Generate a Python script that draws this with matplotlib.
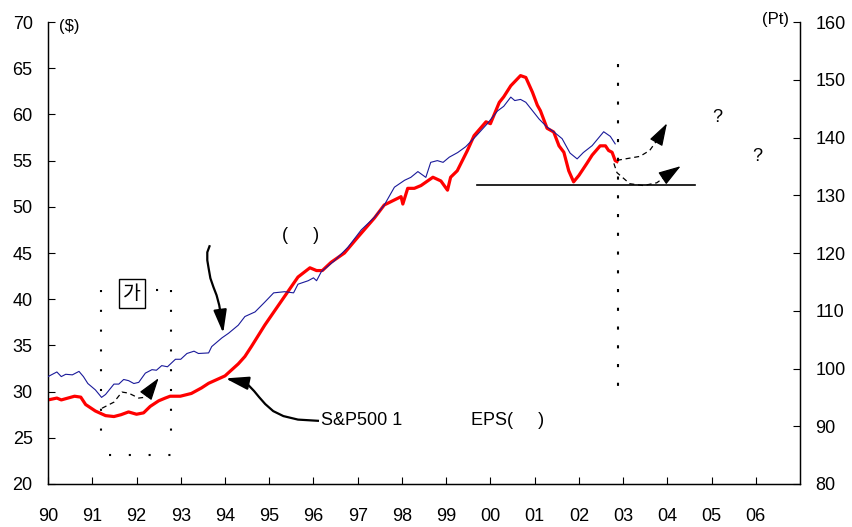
import matplotlib
matplotlib.use("Agg")
import matplotlib.pyplot as plt

plt.rcParams['font.family'] = ['Liberation Sans', 'DejaVu Sans']

# S&P500 EPS ($, left axis)
eps_x = [1990.0, 1990.2, 1990.3, 1990.45, 1990.6, 1990.74, 1990.85, 1991.07, 1991.3, 1991.49,
         1991.65, 1991.82, 1992.0, 1992.16, 1992.31, 1992.5, 1992.65, 1992.76, 1992.99, 1993.24,
         1993.47, 1993.63, 1994.0, 1994.3, 1994.45, 1994.6, 1994.9, 1995.13, 1995.39, 1995.65,
         1995.92, 1996.07, 1996.2, 1996.4, 1996.7, 1997.0, 1997.38, 1997.6, 1997.98, 1998.02,
         1998.13, 1998.28, 1998.43, 1998.7, 1998.88, 1999.03, 1999.1, 1999.25, 1999.48, 1999.63,
         1999.9, 2000.0, 2000.2, 2000.3, 2000.46, 2000.68, 2000.8, 2000.95, 2001.06, 2001.13,
         2001.28, 2001.43, 2001.55, 2001.66, 2001.77, 2001.88, 2002.0, 2002.18, 2002.3, 2002.48,
         2002.6, 2002.67, 2002.75, 2002.82, 2002.86]
eps_y = [29.1, 29.3, 29.1, 29.3, 29.5, 29.4, 28.6, 27.9, 27.4, 27.3,
         27.5, 27.8, 27.55, 27.7, 28.4, 29.0, 29.3, 29.5, 29.5, 29.8,
         30.4, 30.9, 31.7, 33.0, 33.8, 34.9, 37.2, 38.8, 40.6, 42.4,
         43.4, 43.1, 43.1, 44.0, 45.0, 46.7, 48.8, 50.2, 51.1, 50.3,
         52.0, 52.0, 52.3, 53.2, 52.8, 51.8, 53.2, 53.9, 56.1, 57.7,
         59.2, 59.0, 61.3, 61.9, 63.1, 64.2, 64.0, 62.4, 61.0, 60.4,
         58.5, 58.1, 56.6, 55.9, 53.9, 52.7, 53.4, 54.7, 55.6, 56.6,
         56.6, 56.1, 55.9, 55.0, 54.9]

# leading index (Pt, right axis)
idx_x = [1990.0, 1990.2, 1990.3, 1990.4, 1990.55, 1990.7, 1990.8, 1990.9, 1991.07, 1991.21,
         1991.3, 1991.49, 1991.6, 1991.71, 1991.82, 1991.94, 1992.05, 1992.2, 1992.35, 1992.45,
         1992.57, 1992.7, 1992.88, 1993.0, 1993.14, 1993.3, 1993.4, 1993.63, 1993.7, 1993.93,
         1994.08, 1994.3, 1994.45, 1994.68, 1994.9, 1995.1, 1995.35, 1995.55, 1995.65, 1995.88,
         1996.0, 1996.07, 1996.18, 1996.48, 1996.78, 1997.08, 1997.38, 1997.6, 1997.83, 1998.06,
         1998.2, 1998.36, 1998.54, 1998.65, 1998.8, 1998.93, 1999.07, 1999.26, 1999.44, 1999.67,
         1999.93, 2000.16, 2000.3, 2000.46, 2000.55, 2000.68, 2000.8, 2001.1, 2001.28, 2001.43,
         2001.62, 2001.8, 2001.96, 2002.1, 2002.3, 2002.56, 2002.71, 2002.82]
idx_y = [98.6, 99.4, 98.6, 99.0, 98.9, 99.5, 98.6, 97.4, 96.3, 95.0,
         95.5, 97.3, 97.3, 98.1, 97.9, 97.4, 97.6, 99.2, 99.8, 99.7,
         100.5, 100.3, 101.6, 101.6, 102.6, 103.0, 102.6, 102.7, 103.8, 105.3,
         106.1, 107.5, 109.0, 109.8, 111.5, 113.1, 113.3, 113.1, 114.6, 115.2,
         115.7, 115.2, 116.8, 118.7, 121.0, 124.0, 126.2, 128.3, 131.4, 132.6,
         133.1, 134.1, 133.1, 135.7, 136.0, 135.7, 136.6, 137.4, 138.4, 140.2,
         142.4, 144.6, 145.4, 147.0, 146.4, 146.6, 146.1, 143.2, 141.8, 141.0,
         139.8, 137.3, 136.3, 137.4, 138.6, 141.0, 140.2, 138.9]

years = list(range(1990, 2007))
year_labels = ['90', '91', '92', '93', '94', '95', '96', '97', '98', '99',
               '00', '01', '02', '03', '04', '05', '06']

# annotation paths (left-axis units), last point is the arrow tip
arrow1 = [(1991.22, 28.2), (1991.49, 28.86), (1991.67, 29.95), (1991.82, 29.84), (1992.05, 29.3),
          (1992.21, 29.4), (1992.32, 30.27), (1992.5, 31.46)]
arrow2 = [(2002.86, 55.03), (2003.38, 55.46), (2003.6, 56.1), (2003.81, 57.5), (2003.99, 59.03)]
arrow3 = [(2002.79, 54.7), (2002.86, 53.7), (2003.15, 52.5), (2003.46, 52.3), (2003.76, 52.6),
          (2004.05, 53.6), (2004.3, 54.4)]
arrow4 = [(1993.65, 45.73), (1993.60, 45.08), (1993.60, 44.22), (1993.63, 43.35), (1993.67, 42.27),
          (1993.74, 41.30), (1993.81, 40.43), (1993.87, 39.35), (1993.90, 38.49), (1993.96, 36.32)]
arrow5 = [(1996.1, 26.84), (1995.65, 26.97), (1995.32, 27.35), (1995.09, 27.89), (1994.91, 28.65),
          (1994.77, 29.41), (1994.66, 30.05), (1994.53, 30.70), (1994.41, 31.03), (1994.01, 31.43)]


def draw_arrow(ax, pts, ls, lw, hl, hw):
    xs = [p[0] for p in pts[:-1]]
    ys = [p[1] for p in pts[:-1]]
    ax.plot(xs, ys, color='black', lw=lw, ls=ls, zorder=5, solid_joinstyle='round')
    ax.annotate('', xy=pts[-1], xytext=pts[-2],
                arrowprops=dict(arrowstyle='-|>,head_length=%s,head_width=%s' % (hl, hw),
                                color='black', lw=lw, shrinkA=0, shrinkB=0,
                                mutation_scale=10), zorder=6)


def main():
    fig = plt.figure(figsize=(8.53, 5.27), dpi=100)
    ax = fig.add_axes([0.0563, 0.0816, 0.8817, 0.8766])
    ax2 = ax.twinx()

    ax.plot(eps_x, eps_y, color='#ff0000', lw=2.3, zorder=4, solid_joinstyle='round')
    ax2.plot(idx_x, idx_y, color='#1a1a9a', lw=0.8, zorder=3)

    ax.set_xlim(1990, 2007)
    ax.set_ylim(20, 70)
    ax2.set_ylim(80, 160)
    ax.set_yticks(range(20, 71, 5))
    ax2.set_yticks(range(80, 161, 10))

    ax.set_xticks(years)
    ax.set_xticklabels(year_labels)
    ax.tick_params(axis='x', direction='in', length=5, width=0.8, pad=17, labelsize=13)
    ax.tick_params(axis='y', direction='in', length=5, width=0.8, pad=11, labelsize=13)
    ax2.tick_params(axis='y', direction='in', length=5, width=0.8, pad=11, labelsize=13)

    for a in (ax, ax2):
        a.spines['top'].set_visible(False)
        for s in ('left', 'right', 'bottom'):
            a.spines[s].set_linewidth(0.9)

    # horizontal reference line and vertical dotted line
    ax.plot([1999.7, 2004.62], [52.35, 52.35], color='black', lw=1.2, zorder=5)
    ax.plot([2002.88, 2002.88], [65.5, 29.2], color='black', lw=1.5, ls=(0, (1.5, 7.5)), zorder=5)

    # dotted box
    dot = (0, (1, 8.5))
    ax.plot([1991.19, 1991.19], [41.0, 24.2], color='black', lw=1.5, ls=dot)
    ax.plot([1992.79, 1992.79], [41.0, 24.2], color='black', lw=1.5, ls=dot)
    ax.plot([1991.37, 1992.78], [23.1, 23.1], color='black', lw=1.5, ls=dot)
    ax.plot([1992.45, 1992.79], [41.0, 41.0], color='black', lw=1.5, ls=dot)

    draw_arrow(ax, arrow1, (0, (4, 3)), 0.9, 1.4, 0.45)
    draw_arrow(ax, arrow2, (0, (4, 3)), 0.9, 1.4, 0.45)
    draw_arrow(ax, arrow3, (0, (4, 3)), 0.9, 1.4, 0.45)
    draw_arrow(ax, arrow4, '-', 1.6, 1.4, 0.4)
    draw_arrow(ax, arrow5, '-', 1.6, 1.4, 0.4)

    ax.text(1990.25, 69.5, '($)', fontsize=12, va='center', ha='left')
    ax2.text(2006.75, 160.4, '(Pt)', fontsize=12, va='center', ha='right')
    ax.text(1995.7, 46.9, '(     )', fontsize=13, va='center', ha='center')
    ax.text(1991.9, 40.6, '가', fontsize=14, va='center', ha='center',
            family=['Noto Sans CJK KR', 'DejaVu Sans'],
            bbox=dict(boxstyle='square,pad=0.2', fc='white', ec='black', lw=1.0))
    ax.text(1996.17, 26.84, 'S&P500 1', fontsize=13, va='center', ha='left')
    ax.text(1999.57, 26.84, 'EPS(     )', fontsize=13, va='center', ha='left')
    ax.text(2005.13, 59.7, '?', fontsize=13, va='center', ha='center')
    ax.text(2006.03, 55.4, '?', fontsize=13, va='center', ha='center')

    fig.savefig('out.png', dpi=100)


if __name__ == "__main__":
    main()
